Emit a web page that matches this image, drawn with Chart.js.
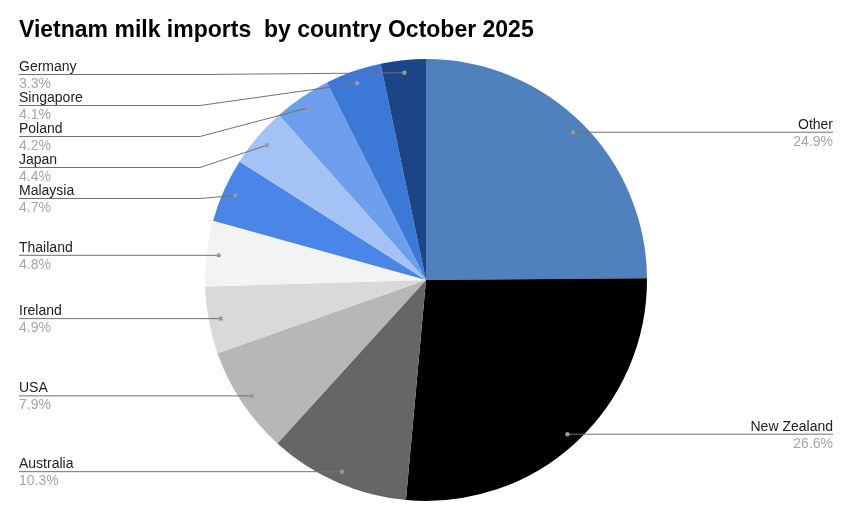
<!DOCTYPE html>
<html>
<head>
<meta charset="utf-8">
<title>Vietnam milk imports by country October 2025</title>
<script src="https://cdn.jsdelivr.net/npm/chart.js@4.4.1/dist/chart.umd.min.js"></script>
<style>
  html, body { margin: 0; padding: 0; background: #fff; }
  #wrap { width: 852px; height: 520px; }
</style>
</head>
<body>
<div id="wrap"><canvas id="pieChart" width="852" height="520"></canvas></div>
<script>
// ===== DATA =====
const CHART_TITLE = 'Vietnam milk imports  by country October 2025';
const countries = ['Other', 'New Zealand', 'Australia', 'USA', 'Ireland', 'Thailand', 'Malaysia', 'Japan', 'Poland', 'Singapore', 'Germany'];
const shares = [24.9, 26.6, 10.3, 7.9, 4.9, 4.8, 4.7, 4.4, 4.2, 4.1, 3.3];
const sliceColors = ['#4f81bd', '#000000', '#666666', '#b7b7b7', '#d9d9d9', '#f3f3f3', '#4a86e8', '#a4c2f4', '#6d9eeb', '#3c78d8', '#1c4587'];

const FONT = '"Liberation Sans", Arial, sans-serif';

// ===== LABELS PLUGIN =====
const pieLabels = {
  id: 'pieLabels',
  afterDraw(chart) {
    const ctx = chart.ctx;
    const meta = chart.getDatasetMeta(0);
    const area = chart.chartArea;

    // title
    ctx.save();
    ctx.font = 'bold 23px ' + FONT;
    ctx.fillStyle = '#000';
    ctx.textAlign = 'left';
    ctx.textBaseline = 'alphabetic';
    ctx.fillText(CHART_TITLE, 19, 37);
    ctx.restore();

    const left = [], right = [];
    meta.data.forEach((arc, i) => {
      const mid = (arc.startAngle + arc.endAngle) / 2;
      const r = arc.outerRadius * 0.945;
      const item = {
        i,
        dx: arc.x + Math.cos(mid) * r,
        dy: arc.y + Math.sin(mid) * r
      };
      (Math.cos(mid) < 0 ? left : right).push(item);
    });

    const gap = 31;
    [left, right].forEach(side => {
      side.sort((a, b) => a.dy - b.dy);
      let prev = -Infinity;
      side.forEach(it => {
        it.ly = Math.max(it.dy, prev + gap, area.top + 15);
        prev = it.ly;
      });
    });

    const drawOne = (it, isLeft) => {
      const tx = isLeft ? 19 : chart.width - 19;
      const elbow = isLeft ? 200 : chart.width - 200;
      ctx.strokeStyle = '#707070';
      ctx.lineWidth = 1;
      ctx.beginPath();
      ctx.moveTo(tx, it.ly + 0.5);
      if (Math.abs(it.ly - it.dy) > 0.5) ctx.lineTo(elbow, it.ly + 0.5);
      ctx.lineTo(it.dx, it.dy + 0.5);
      ctx.stroke();

      ctx.fillStyle = '#999';
      ctx.beginPath();
      ctx.arc(it.dx, it.dy + 0.5, 2.2, 0, Math.PI * 2);
      ctx.fill();

      ctx.font = '14px ' + FONT;
      ctx.textAlign = isLeft ? 'left' : 'right';
      ctx.textBaseline = 'alphabetic';
      ctx.fillStyle = '#222';
      ctx.fillText(countries[it.i], tx, it.ly - 3);
      ctx.fillStyle = '#a5a5a5';
      ctx.fillText(shares[it.i].toFixed(1) + '%', tx, it.ly + 14);
    };

    ctx.save();
    left.forEach(it => drawOne(it, true));
    right.forEach(it => drawOne(it, false));
    ctx.restore();
  }
};

// ===== CHART =====
new Chart(document.getElementById('pieChart'), {
  type: 'pie',
  data: {
    labels: countries,
    datasets: [{
      data: shares,
      backgroundColor: sliceColors,
      borderWidth: 0
    }]
  },
  options: {
    responsive: false,
    animation: false,
    devicePixelRatio: 1,
    layout: { padding: { top: 59, bottom: 19, left: 19, right: 19 } },
    plugins: {
      legend: { display: false },
      tooltip: { enabled: false },
      title: { display: false }
    }
  },
  plugins: [pieLabels]
});
</script>
</body>
</html>
